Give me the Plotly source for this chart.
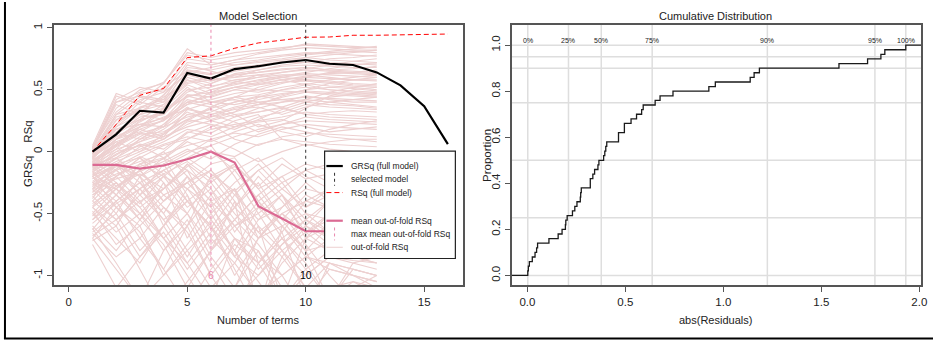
import numpy as np
import plotly.graph_objects as go

# ---------------- data ----------------
n_terms = list(range(1, 17))
grsq = [0.0, 0.14, 0.33, 0.316, 0.635, 0.59, 0.667, 0.69, 0.72, 0.74, 0.71, 0.70, 0.64, 0.535, 0.367, 0.06]
rsq = [0.0, 0.22, 0.455, 0.51, 0.76, 0.774, 0.835, 0.878, 0.90, 0.924, 0.926, 0.94, 0.94, 0.942, 0.95, 0.95]
cv_terms = list(range(1, 14))
mean_oof = [-0.107, -0.107, -0.137, -0.112, -0.062, 0.0, -0.088, -0.44, -0.54, -0.643, -0.643, -0.645, -0.65]
selected_terms = 10
max_mean_terms = 6

oof_rsq = [
    [0.02, 0.35, 0.50, 0.55, 0.80, 0.76, 0.80, 0.82, 0.84, 0.86, 0.85, 0.84, 0.84],
    [0.00, 0.25, 0.42, 0.48, 0.72, 0.70, 0.74, 0.76, 0.78, 0.80, 0.79, 0.78, 0.77],
    [0.03, 0.45, 0.38, 0.52, 0.65, 0.62, 0.68, 0.70, 0.73, 0.74, 0.72, 0.71, 0.70],
    [-0.02, 0.20, 0.30, 0.35, 0.60, 0.55, 0.63, 0.66, 0.69, 0.70, 0.69, 0.68, 0.68],
    [0.01, 0.30, 0.35, 0.40, 0.55, 0.58, 0.60, 0.62, 0.64, 0.66, 0.65, 0.64, 0.63],
    [0.00, 0.15, 0.28, 0.30, 0.50, 0.52, 0.58, 0.60, 0.62, 0.62, 0.60, 0.58, 0.57],
    [-0.05, 0.10, 0.25, 0.32, 0.45, 0.48, 0.52, 0.55, 0.58, 0.60, 0.59, 0.58, 0.58],
    [0.02, 0.40, 0.45, 0.42, 0.70, 0.65, 0.60, 0.66, 0.70, 0.72, 0.75, 0.76, 0.78],
    [-0.03, 0.18, 0.22, 0.27, 0.40, 0.45, 0.50, 0.48, 0.52, 0.55, 0.53, 0.52, 0.50],
    [0.00, 0.28, 0.33, 0.38, 0.62, 0.60, 0.65, 0.68, 0.72, 0.76, 0.78, 0.80, 0.82],
    [-0.08, 0.05, 0.18, 0.25, 0.38, 0.42, 0.47, 0.50, 0.49, 0.48, 0.47, 0.46, 0.45],
    [0.01, 0.22, 0.40, 0.36, 0.58, 0.50, 0.55, 0.57, 0.60, 0.63, 0.62, 0.61, 0.60],
    [-0.01, 0.12, 0.20, 0.35, 0.52, 0.40, 0.44, 0.46, 0.50, 0.52, 0.50, 0.48, 0.47],
    [0.04, 0.32, 0.47, 0.50, 0.75, 0.72, 0.70, 0.72, 0.74, 0.76, 0.74, 0.73, 0.72],
    [-0.04, 0.08, 0.15, 0.20, 0.35, 0.30, 0.36, 0.40, 0.42, 0.44, 0.43, 0.42, 0.41],
    [-0.10, -0.05, 0.10, 0.15, 0.30, 0.28, 0.35, 0.38, 0.40, 0.42, 0.40, 0.38, 0.36],
    [-0.15, 0.00, 0.05, 0.12, 0.20, 0.25, 0.30, 0.32, 0.35, 0.30, 0.28, 0.27, 0.26],
    [-0.20, -0.10, -0.05, 0.05, 0.10, 0.18, 0.22, 0.25, 0.28, 0.32, 0.30, 0.29, 0.28],
    [-0.12, 0.05, 0.15, 0.10, 0.25, 0.35, 0.40, 0.45, 0.42, 0.40, 0.38, 0.37, 0.35],
    [-0.25, -0.15, -0.08, -0.02, 0.05, 0.10, 0.15, 0.12, 0.18, 0.22, 0.20, 0.19, 0.18],
    [-0.05, 0.10, 0.20, 0.25, 0.42, 0.38, 0.30, 0.20, 0.25, 0.35, 0.45, 0.50, 0.52],
    [-0.30, -0.20, -0.10, 0.00, 0.15, 0.22, 0.10, 0.05, 0.12, 0.15, 0.14, 0.13, 0.12],
    [-0.08, 0.02, 0.08, 0.18, 0.32, 0.25, 0.20, 0.28, 0.32, 0.38, 0.36, 0.35, 0.34],
    [-0.18, -0.08, 0.00, 0.08, 0.18, 0.15, 0.25, 0.30, 0.10, 0.05, 0.08, 0.10, 0.10],
    [-0.22, -0.12, -0.20, -0.10, 0.00, 0.05, 0.12, 0.18, 0.22, 0.25, 0.24, 0.23, 0.22],
    [-0.03, 0.12, 0.22, 0.20, 0.45, 0.40, 0.42, 0.38, 0.45, 0.50, 0.55, 0.58, 0.60],
    [-0.14, -0.02, 0.05, -0.05, 0.10, 0.20, 0.28, 0.35, 0.40, 0.45, 0.42, 0.40, 0.40],
    [0.00, 0.20, 0.35, 0.45, 0.68, 0.66, 0.70, 0.73, 0.75, 0.78, 0.80, 0.81, 0.80],
    [-0.06, 0.14, 0.26, 0.30, 0.48, 0.55, 0.62, 0.64, 0.66, 0.68, 0.66, 0.65, 0.64],
    [-0.02, 0.26, 0.32, 0.44, 0.56, 0.60, 0.57, 0.54, 0.58, 0.61, 0.63, 0.64, 0.66],
    [-0.10, 0.00, 0.12, 0.22, 0.40, 0.36, 0.44, 0.52, 0.56, 0.58, 0.57, 0.55, 0.54],
    [0.02, 0.38, 0.30, 0.46, 0.64, 0.68, 0.72, 0.74, 0.77, 0.79, 0.81, 0.83, 0.85],
    [-0.07, 0.06, 0.20, 0.28, 0.34, 0.40, 0.38, 0.42, 0.46, 0.50, 0.52, 0.51, 0.49],
    [-0.12, -0.03, 0.10, 0.20, 0.28, 0.32, 0.40, 0.44, 0.47, 0.49, 0.48, 0.47, 0.46],
    [-0.01, 0.16, 0.30, 0.26, 0.46, 0.44, 0.50, 0.54, 0.56, 0.57, 0.55, 0.53, 0.52],
    [-0.16, -0.06, 0.02, 0.10, 0.22, 0.30, 0.34, 0.36, 0.30, 0.36, 0.40, 0.42, 0.44],
    [0.03, 0.42, 0.52, 0.48, 0.62, 0.57, 0.62, 0.64, 0.67, 0.68, 0.66, 0.67, 0.69],
    [-0.09, 0.04, 0.14, 0.16, 0.26, 0.22, 0.18, 0.26, 0.34, 0.40, 0.44, 0.46, 0.48],
    [-0.04, 0.10, 0.24, 0.34, 0.44, 0.50, 0.54, 0.58, 0.61, 0.64, 0.67, 0.70, 0.72],
    [-0.20, -0.05, 0.06, 0.02, 0.16, 0.12, 0.20, 0.24, 0.26, 0.20, 0.16, 0.18, 0.20],
    [-0.28, -0.18, -0.12, -0.06, 0.08, 0.00, -0.04, 0.06, 0.10, 0.08, 0.06, 0.05, 0.04],
    [-0.11, 0.08, 0.00, 0.14, 0.30, 0.34, 0.28, 0.32, 0.36, 0.30, 0.32, 0.33, 0.32],
    [0.05, 0.47, 0.40, 0.55, 0.83, 0.70, 0.74, 0.79, 0.82, 0.84, 0.83, 0.82, 0.82],
    [0.03, 0.40, 0.48, 0.56, 0.78, 0.74, 0.77, 0.80, 0.83, 0.87, 0.86, 0.85, 0.84],
    [-0.02, 0.30, 0.44, 0.40, 0.66, 0.63, 0.66, 0.70, 0.72, 0.72, 0.70, 0.70, 0.71],
    [-0.06, 0.22, 0.36, 0.42, 0.58, 0.53, 0.56, 0.60, 0.64, 0.67, 0.70, 0.73, 0.75],
    [-0.13, 0.02, 0.20, 0.32, 0.50, 0.46, 0.52, 0.56, 0.60, 0.58, 0.56, 0.54, 0.53],
    [-0.09, 0.10, 0.16, 0.26, 0.38, 0.48, 0.56, 0.62, 0.58, 0.54, 0.50, 0.49, 0.48],
    [-0.17, -0.02, 0.08, 0.14, 0.26, 0.36, 0.44, 0.40, 0.36, 0.42, 0.48, 0.52, 0.55],
    [0.01, 0.18, 0.26, 0.38, 0.54, 0.47, 0.52, 0.50, 0.55, 0.60, 0.64, 0.63, 0.62],
    [-0.24, -0.10, 0.04, 0.10, 0.24, 0.28, 0.32, 0.38, 0.44, 0.48, 0.46, 0.45, 0.44],
    [-0.04, 0.15, 0.10, 0.22, 0.36, 0.26, 0.32, 0.44, 0.50, 0.54, 0.58, 0.60, 0.62],
    [-0.19, -0.12, -0.02, 0.06, 0.12, 0.08, 0.16, 0.22, 0.16, 0.12, 0.18, 0.22, 0.25],
    [-0.07, 0.06, 0.18, 0.12, 0.34, 0.30, 0.24, 0.16, 0.22, 0.28, 0.26, 0.25, 0.24],
    [-0.32, -0.22, -0.16, -0.08, 0.02, -0.06, 0.06, 0.14, 0.20, 0.16, 0.12, 0.10, 0.08],
    [-0.27, -0.14, -0.04, -0.12, -0.02, 0.10, 0.02, -0.08, 0.00, 0.06, 0.02, 0.00, -0.02],
    [-0.35, -0.20, -0.40, -0.30, -0.10, -0.25, -0.50, -0.70, -0.60, -0.80, -0.75, -0.70, -0.72],
    [-0.45, -0.60, -0.30, -0.50, -0.20, -0.40, -0.30, -0.90, -1.20, -1.00, -0.85, -0.90, -0.95],
    [-0.55, -0.40, -0.70, -0.45, -0.60, -0.20, -0.10, -0.40, -0.60, -0.50, -0.55, -0.60, -0.58],
    [-0.30, -0.10, -0.25, -0.15, -0.05, 0.05, -0.20, -0.50, -0.35, -0.60, -0.40, -0.45, -0.50],
    [-0.65, -0.50, -0.80, -0.60, -0.90, -1.20, -0.70, -0.80, -1.10, -1.30, -0.90, -1.00, -1.10],
    [-0.40, -0.55, -0.35, -0.20, -0.45, -0.30, -0.65, -0.40, -0.70, -0.90, -1.20, -0.95, -1.00],
    [-0.25, -0.30, -0.15, -0.35, -0.25, -0.10, -0.05, -0.30, -0.20, -0.10, -0.15, -0.20, -0.25],
    [-0.70, -0.45, -0.60, -1.00, -0.75, -0.50, -0.80, -1.20, -0.90, -0.70, -0.80, -0.85, -0.90],
    [-0.50, -0.70, -0.90, -0.60, -0.40, -0.60, -1.00, -0.70, -0.50, -0.40, -0.45, -0.50, -0.55],
    [-0.20, -0.35, -0.10, -0.20, -0.30, -0.45, -0.25, -0.10, -0.30, -0.45, -0.35, -0.30, -0.30],
    [-0.60, -0.80, -0.55, -0.75, -1.10, -0.80, -0.60, -0.50, -0.80, -1.10, -1.20, -1.05, -1.15],
    [-0.35, -0.25, -0.50, -0.80, -0.55, -0.90, -1.20, -1.00, -0.75, -0.60, -0.70, -0.75, -0.80],
    [-0.15, -0.05, -0.20, -0.40, -0.25, -0.15, -0.35, -0.55, -0.45, -0.30, -0.35, -0.40, -0.42],
    [-0.45, -0.30, -0.10, -0.05, -0.35, -0.70, -0.45, -0.20, -0.40, -0.65, -0.50, -0.48, -0.50],
    [-0.75, -1.10, -0.85, -0.65, -0.95, -0.70, -0.90, -1.15, -1.00, -0.85, -0.95, -1.00, -1.05],
    [-0.30, -0.50, -0.20, -0.60, -0.35, -0.80, -0.40, -1.30, -0.60, -0.80, -1.20, -0.90, -0.85],
    [-0.50, -0.30, -0.55, -0.25, -0.70, -0.40, -0.85, -0.55, -0.35, -0.70, -0.50, -0.55, -0.60],
    [-0.10, -0.25, -0.45, -0.30, -0.15, -0.50, -0.30, -0.60, -1.20, -0.70, -0.60, -0.65, -0.68],
    [-0.62, -0.90, -1.20, -0.80, -0.60, -1.00, -0.75, -0.90, -0.65, -1.20, -0.95, -1.00, -1.05],
    [-0.40, -0.20, -0.05, -0.25, -0.50, -0.20, -0.45, -0.25, -0.55, -0.35, -0.45, -0.50, -0.52],
    [-0.20, -0.45, -0.65, -0.95, -0.60, -0.35, -0.60, -0.85, -1.00, -1.30, -1.10, -1.05, -1.10],
    [-0.55, -0.35, -0.15, -0.40, -0.20, -0.55, -0.80, -0.45, -0.65, -0.40, -0.30, -0.35, -0.38],
    [-0.33, -0.15, -0.30, -0.55, -0.85, -0.55, -0.30, -0.70, -0.45, -0.25, -0.40, -0.45, -0.48],
    [-0.68, -0.55, -0.40, -0.70, -0.50, -0.85, -1.10, -0.80, -1.20, -0.95, -0.80, -0.85, -0.90],
    [-0.05, -0.15, -0.35, -0.10, -0.40, -0.60, -0.95, -1.30, -0.85, -0.60, -0.75, -0.80, -0.82],
    [-0.25, -0.40, -0.25, -0.45, -0.65, -1.00, -1.30, -0.90, -0.70, -0.95, -1.20, -1.10, -1.15],
    [-0.45, -0.65, -0.50, -0.30, -0.10, -0.35, -0.15, -0.40, -0.25, -0.50, -0.65, -0.70, -0.72],
    [-0.72, -0.60, -0.95, -1.30, -1.05, -0.80, -0.55, -0.75, -1.00, -0.85, -0.90, -0.95, -1.00],
    [-0.18, -0.30, -0.45, -0.70, -1.00, -1.30, -1.10, -0.70, -0.50, -0.65, -0.55, -0.60, -0.62],
    [-0.38, -0.10, -0.20, -0.05, -0.15, -0.30, -0.55, -0.35, -0.20, -0.45, -0.30, -0.28, -0.30],
    [-0.42, -0.28, -0.18, -0.30, -0.12, 0.00, -0.15, -0.05, -0.25, -0.15, -0.10, -0.12, -0.14],
    [-0.58, -0.42, -0.30, -0.18, -0.40, -0.62, -0.35, -0.15, -0.05, -0.20, -0.30, -0.35, -0.36],
    [-0.48, -0.75, -0.60, -0.40, -0.25, -0.45, -0.70, -0.95, -0.75, -0.55, -0.65, -0.70, -0.72],
    [-0.63, -0.40, -0.25, -0.50, -0.80, -1.10, -0.90, -0.60, -0.80, -1.00, -0.85, -0.88, -0.90],
    [-0.36, -0.55, -0.85, -0.60, -0.30, -0.15, -0.40, -0.65, -0.50, -0.75, -1.00, -1.20, -1.15],
    [-0.22, -0.10, -0.35, -0.55, -0.40, -0.25, -0.10, -0.30, -0.55, -0.80, -0.60, -0.55, -0.58],
    [-0.12, -0.28, -0.15, 0.00, -0.20, -0.40, -0.60, -0.45, -0.30, -0.15, -0.25, -0.30, -0.32],
    [-0.52, -0.35, -0.50, -0.70, -0.90, -0.65, -0.45, -0.65, -0.85, -1.10, -1.30, -1.10, -1.00],
    [-0.28, -0.45, -0.30, -0.15, -0.30, -0.55, -0.80, -1.05, -1.30, -1.10, -0.90, -0.95, -1.00],
    [-0.66, -0.85, -0.70, -0.95, -1.25, -0.95, -0.70, -0.90, -0.70, -0.55, -0.70, -0.75, -0.78],
    [-0.08, -0.20, -0.05, -0.18, -0.08, -0.22, -0.12, -0.28, -0.10, -0.22, -0.18, -0.20, -0.22],
    [-0.44, -0.25, -0.42, -0.20, -0.05, -0.18, -0.32, -0.15, -0.35, -0.55, -0.40, -0.38, -0.40],
    [-0.70, -0.95, -1.20, -1.00, -0.80, -0.60, -0.85, -1.00, -0.80, -0.65, -0.80, -0.82, -0.85],
    [-0.16, -0.35, -0.55, -0.35, -0.50, -0.75, -0.55, -0.35, -0.60, -0.85, -0.70, -0.72, -0.75],
]

abs_residuals = [
    0.002, 0.005, 0.010, 0.025, 0.039, 0.047, 0.052, 0.110, 0.157, 0.177,
    0.194, 0.196, 0.203, 0.230, 0.242, 0.253, 0.270, 0.272, 0.275, 0.321,
    0.321, 0.334, 0.343, 0.360, 0.365, 0.389, 0.395, 0.400, 0.405, 0.465,
    0.465, 0.495, 0.495, 0.529, 0.557, 0.583, 0.591, 0.652, 0.677, 0.743,
    0.926, 0.959, 1.137, 1.157, 1.184, 1.590, 1.736, 1.804, 1.824, 1.931,
]
quantile_probs = [0, 0.25, 0.5, 0.75, 0.9, 0.95, 1.0]
quantile_labels = ["0%", "25%", "50%", "75%", "90%", "95%", "100%"]

# ---------------- layout helpers ----------------
W, H = 939, 342
def px(x): return x / W
def py(y): return 1 - y / H

FONT = "Liberation Sans, Arial, sans-serif"
FRAME = "#555555"
OOF_COL = "#EDD0D0"
MEAN_COL = "#DB6A93"
VMAX_COL = "#E987AE"
GRID = "#DEDEDE"
TXT = "#222222"

XR1 = [-0.64, 16.64]
YR1 = [-1.08, 1.024]
XR2 = [-0.08, 2.009]
YR2 = [-0.043, 1.088]

fig = go.Figure()

for vals in oof_rsq:
    fig.add_trace(go.Scatter(x=cv_terms[:len(vals)], y=vals, mode="lines",
                             line=dict(color=OOF_COL, width=1.1),
                             hoverinfo="skip", showlegend=False, xaxis="x", yaxis="y"))

fig.add_trace(go.Scatter(x=cv_terms, y=mean_oof, mode="lines",
                         line=dict(color=MEAN_COL, width=2.2), showlegend=False,
                         xaxis="x", yaxis="y"))
fig.add_trace(go.Scatter(x=n_terms, y=rsq, mode="lines",
                         line=dict(color="#FF0000", width=1, dash="5px,3px"), showlegend=False,
                         xaxis="x", yaxis="y"))
fig.add_trace(go.Scatter(x=n_terms, y=grsq, mode="lines",
                         line=dict(color="black", width=2.2), showlegend=False,
                         xaxis="x", yaxis="y"))

vals = np.sort(np.array(abs_residuals))
n = len(vals)
ex = np.concatenate([[XR2[0]], vals, [XR2[1]]])
ey = np.concatenate([[0.0], np.arange(1, n + 1) / n, [1.0]])
fig.add_trace(go.Scatter(x=ex, y=ey, mode="lines", line=dict(color="#1a1a1a", width=1.3, shape="hv"),
                         showlegend=False, xaxis="x2", yaxis="y2"))

shapes = []
annotations = []

shapes.append(dict(type="line", xref="x", yref="y", x0=max_mean_terms, x1=max_mean_terms,
                   y0=-0.93, y1=YR1[1], line=dict(color=VMAX_COL, width=1, dash="dot"), layer="above"))
shapes.append(dict(type="line", xref="x", yref="y", x0=selected_terms, x1=selected_terms,
                   y0=-0.93, y1=YR1[1], line=dict(color="#333333", width=1, dash="dot"), layer="above"))
annotations.append(dict(x=max_mean_terms, y=-1.0, xref="x", yref="y", text=str(max_mean_terms),
                        showarrow=False, font=dict(family=FONT, size=10.5, color=VMAX_COL)))
annotations.append(dict(x=selected_terms, y=-1.0, xref="x", yref="y", text=str(selected_terms),
                        showarrow=False, font=dict(family=FONT, size=10.5, color="black")))

qs = np.quantile(vals, quantile_probs)
for q, lab in zip(qs, quantile_labels):
    shapes.append(dict(type="line", xref="x2", yref="y2 domain", x0=q, x1=q, y0=0, y1=1,
                       line=dict(color=GRID, width=1.5), layer="below"))
    annotations.append(dict(x=q, y=py(33), xref="x2", yref="paper", text=lab, showarrow=False,
                            font=dict(family=FONT, size=7, color=TXT)))
for p in quantile_probs:
    shapes.append(dict(type="line", xref="x2 domain", yref="y2", x0=0, x1=1, y0=p, y1=p,
                       line=dict(color=GRID, width=1.5), layer="below"))

lx0, lx1, ly0, ly1 = 326.7, 458.3, 150, 258
shapes.append(dict(type="rect", xref="paper", yref="paper", x0=px(lx0), x1=px(lx1), y0=py(ly1), y1=py(ly0),
                   fillcolor="white", line=dict(color="#222222", width=1.2), layer="above"))
leg = [
    ("GRSq (full model)", 165.0, "h", dict(color="black", width=2.2)),
    ("selected model", 178.3, "v", dict(color="#333333", width=1, dash="dot")),
    ("RSq (full model)", 191.7, "h", dict(color="#FF0000", width=1, dash="5px,3px")),
    ("mean out-of-fold RSq", 220.0, "h", dict(color=MEAN_COL, width=2.2)),
    ("max mean out-of-fold RSq", 233.3, "v", dict(color=VMAX_COL, width=1, dash="dot")),
    ("out-of-fold RSq", 246.7, "h", dict(color=OOF_COL, width=1)),
]
for text, yy, kind, ln in leg:
    if kind == "h":
        shapes.append(dict(type="line", xref="paper", yref="paper", x0=px(328.5), x1=px(345), y0=py(yy), y1=py(yy),
                           line=ln, layer="above"))
    else:
        shapes.append(dict(type="line", xref="paper", yref="paper", x0=px(336.7), x1=px(336.7),
                           y0=py(yy - 6.5), y1=py(yy + 6.5), line=ln, layer="above"))
    annotations.append(dict(x=px(351.5), y=py(yy), xref="paper", yref="paper", text=text, showarrow=False,
                            xanchor="left", yanchor="middle", font=dict(family=FONT, size=8.5, color=TXT)))

for t, x, y, ang, sz in [
    ("Model Selection", 260, 14, 0, 11),
    ("Cumulative Distribution", 720, 14, 0, 11),
    ("Number of terms", 260, 320, 0, 11),
    ("abs(Residuals)", 720, 320, 0, 11),
    ("GRSq    RSq", 28, 153, -90, 11.5),
    ("Proportion", 490, 154, -90, 11.5),
]:
    annotations.append(dict(x=px(x), y=py(y), xref="paper", yref="paper", text=t, showarrow=False,
                            textangle=ang, xanchor="center", yanchor="middle",
                            font=dict(family=FONT, size=sz, color=TXT)))

shapes.append(dict(type="line", xref="paper", yref="paper", x0=px(5), x1=px(5), y0=py(339), y1=1,
                   line=dict(color="black", width=2)))
shapes.append(dict(type="line", xref="paper", yref="paper", x0=px(4), x1=1, y0=py(338.5), y1=py(338.5),
                   line=dict(color="black", width=2)))

axis_common = dict(showline=True, mirror=True, linecolor=FRAME, linewidth=1.5, ticks="outside",
                   ticklen=5, tickcolor=FRAME, tickwidth=1, showgrid=False, zeroline=False,
                   tickfont=dict(family=FONT, size=11.5, color=TXT))

fig.update_layout(
    width=W, height=H, margin=dict(l=0, r=0, t=0, b=0),
    paper_bgcolor="white", plot_bgcolor="white", showlegend=False,
    xaxis=dict(domain=[px(54), px(466)], range=XR1, tickvals=[0, 5, 10, 15], anchor="y", **axis_common),
    yaxis=dict(domain=[py(285), py(23)], range=YR1, tickvals=[-1, -0.5, 0, 0.5, 1],
               ticktext=["-1", "-0.5", "0", "0.5", "1"], tickangle=-90, anchor="x", **axis_common),
    xaxis2=dict(domain=[px(515), px(927)], range=XR2, tickvals=[0, 0.5, 1, 1.5, 2],
                ticktext=["0.0", "0.5", "1.0", "1.5", "2.0"], anchor="y2", **axis_common),
    yaxis2=dict(domain=[py(285), py(23)], range=YR2, tickvals=[0, 0.2, 0.4, 0.6, 0.8, 1.0],
                ticktext=["0.0", "0.2", "0.4", "0.6", "0.8", "1.0"], tickangle=-90, anchor="x2", **axis_common),
    shapes=shapes, annotations=annotations,
)

fig.write_html("out.html", config={"displayModeBar": False},
               post_script="document.body.style.margin='0';document.body.style.overflow='hidden';")
